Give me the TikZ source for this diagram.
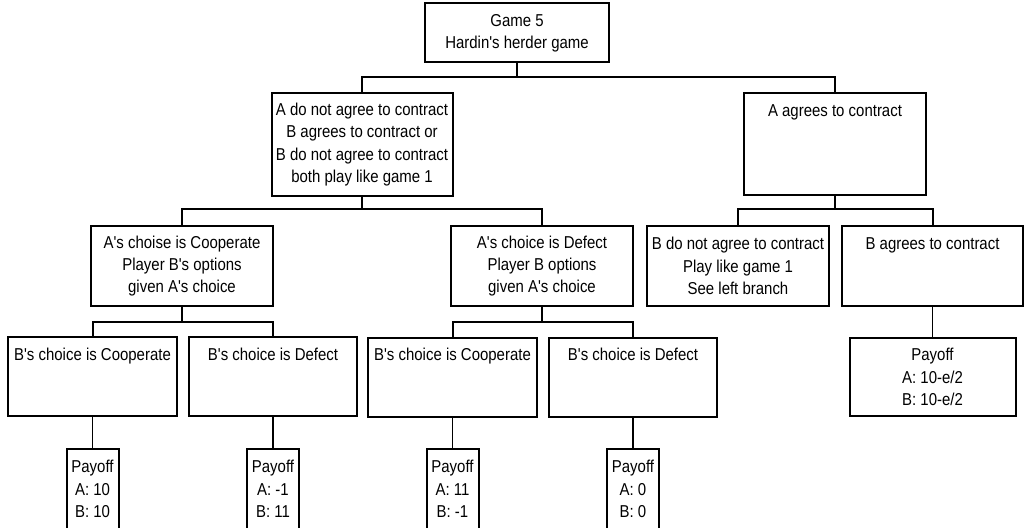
\documentclass[tikz,border=0pt]{standalone}
\usepackage{fontspec}
\setmainfont{Liberation Sans}[FakeStretch=0.87, Ligatures=TeXOff]
\tikzset{every picture/.style={line width=0.75pt}}
\tikzset{
  box/.style={draw, line width=1.5pt, inner sep=0pt, align=center, font=\fontsize{12.9}{16.8}\selectfont},
  topbox/.style={box, text height=17.25pt, text depth=#1},
  trunk/.style={line width=1.5pt},
  twig/.style={line width=0.9pt}
}

\begin{document}
\begin{tikzpicture}[x=0.75pt,y=0.75pt,yscale=-1,xscale=1]
\useasboundingbox (0,0) rectangle (1024,528);

% Root
\node [box, minimum width=138pt, minimum height=44.25pt] (game) at (517,33) {Game 5\\Hardin's herder game};

% Level 1
\node [box, minimum width=135.75pt, minimum height=77.25pt] (anot) at (362,144.5) {A do not agree to contract\\B agrees to contract or\\B do not agree to contract\\both play like game 1};
\node [topbox=59.25pt, minimum width=136.5pt] (aagr) at (835,144) {A agrees to contract};

% Level 2
\node [box, minimum width=136.5pt, minimum height=60pt] (acoop) at (182,266) {A's choise is Cooperate\\Player B's options\\given A's choice};
\node [box, minimum width=136.5pt, minimum height=60pt] (adef) at (542,266) {A's choice is Defect\\Player B options\\given A's choice};
\node [box, minimum width=136.5pt, minimum height=60pt] (bnot) at (738,266) {B do not agree to contract\\Play like game 1\\See left branch};
\node [topbox=42.75pt, minimum width=135.75pt] (bagr) at (932.5,266) {B agrees to contract};

% Level 3
\node [topbox=42pt, minimum width=126.75pt] (cc) at (92.5,376.5) {B's choice is Cooperate};
\node [topbox=42pt, minimum width=126pt] (cd) at (273,376.5) {B's choice is Defect};
\node [topbox=42pt, minimum width=126.75pt] (dc) at (452.5,377) {B's choice is Cooperate};
\node [topbox=42pt, minimum width=126pt] (dd) at (633,377) {B's choice is Defect};
\node [box, minimum width=124.5pt, minimum height=58.5pt] (pagr) at (932.5,377) {Payoff\\A: 10-e/2\\B: 10-e/2};

% Payoffs
\node [box, minimum width=39pt, minimum height=60pt, anchor=north] (pcc) at (92.5,448) {Payoff\\A: 10\\B: 10};
\node [box, minimum width=39pt, minimum height=60pt, anchor=north] (pcd) at (273,448) {Payoff\\A: -1\\B: 11};
\node [box, minimum width=39pt, minimum height=60pt, anchor=north] (pdc) at (452.5,448) {Payoff\\A: 11\\B: -1};
\node [box, minimum width=39pt, minimum height=60pt, anchor=north] (pdd) at (633,448) {Payoff\\A: 0\\B: 0};

% Junctions
\coordinate (j0) at (517,77);
\coordinate (j1) at (362,209);
\coordinate (j2) at (835,209);
\coordinate (j3) at (182,322);
\coordinate (j4) at (542,322);

% Connectors
\draw [trunk] (game.south) -- (j0);
\draw [trunk] (j0) -| (anot.north);
\draw [trunk] (j0) -| (aagr.north);
\draw [trunk] (anot.south) -- (j1);
\draw [trunk] (j1) -| (acoop.north);
\draw [trunk] (j1) -| (adef.north);
\draw [trunk] (aagr.south) -- (j2);
\draw [trunk] (j2) -| (bnot.north);
\draw [trunk] (j2) -| (bagr.north);
\draw [trunk] (acoop.south) -- (j3);
\draw [trunk] (j3) -| (cc.north);
\draw [trunk] (j3) -| (cd.north);
\draw [trunk] (adef.south) -- (j4);
\draw [trunk] (j4) -| (dc.north);
\draw [trunk] (j4) -| (dd.north);
\draw [twig] (cc.south) -- (pcc.north);
\draw [twig] (cd.south) -- (pcd.north);
\draw [twig] (dc.south) -- (pdc.north);
\draw [twig] (dd.south) -- (pdd.north);
\draw [twig] (bagr.south) -- (pagr.north);

\end{tikzpicture}
\end{document}
